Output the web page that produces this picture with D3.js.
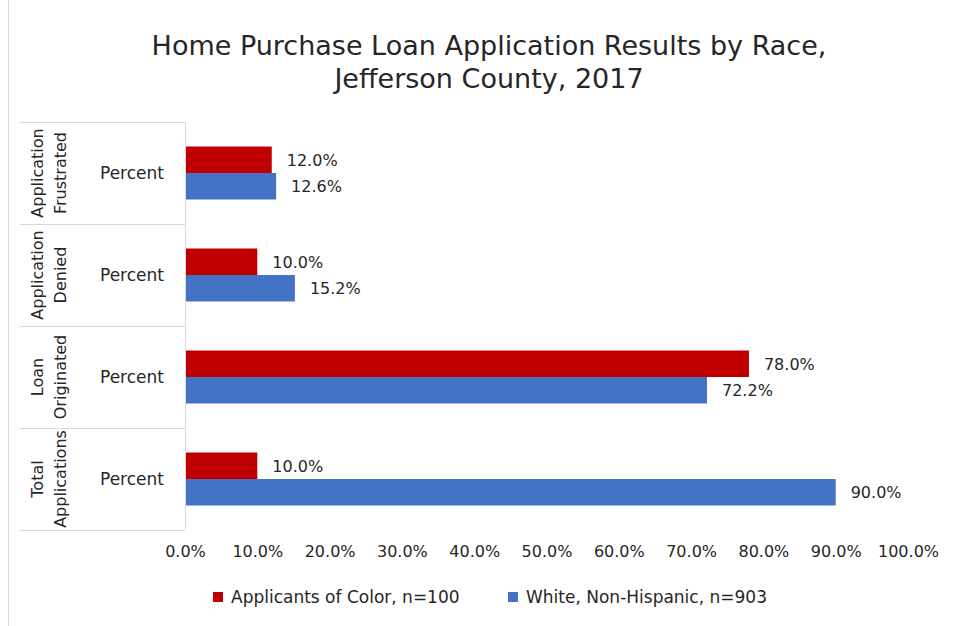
<!DOCTYPE html>
<html>
<head>
<meta charset="utf-8">
<script src="https://cdn.jsdelivr.net/npm/d3@7"></script>
<style>
  body { margin: 0; background: #fff; }
  svg { font-family: "DejaVu Sans", sans-serif; }
</style>
</head>
<body>
<svg id="chart" width="954" height="626"></svg>
<script>
// categories, top to bottom
const categories = [
  ["Application", "Frustrated"],
  ["Application", "Denied"],
  ["Loan", "Originated"],
  ["Total", "Applications"]
]
const subLabel = "Percent"
const seriesNames = ["Applicants of Color, n=100", "White, Non-Hispanic, n=903"]
const colorValues = [12.0, 10.0, 78.0, 10.0]
const whiteValues = [12.6, 15.2, 72.2, 90.0]
const xTicks = [0, 10, 20, 30, 40, 50, 60, 70, 80, 90, 100]
const colors = ["#c00000", "#4472c4"]

const svg = d3.select('#chart')
const plot = { left: 185, right: 908, top: 122, bottom: 530 }
const textColor = '#262626'

const x = d3.scaleLinear().domain([0, 100]).range([plot.left, plot.right])
const y = d3.scaleBand().domain(d3.range(categories.length)).range([plot.top, plot.bottom])
const barH = 26.5

// chart border on the left
svg.append('line')
  .attr('x1', 8.5).attr('x2', 8.5).attr('y1', 0).attr('y2', 626)
  .attr('stroke', '#d9d9d9')

// title
const title = ['Home Purchase Loan Application Results by Race,', 'Jefferson County, 2017']
svg.append('g').selectAll('text')
  .data(title)
  .join('text')
  .attr('x', 489).attr('y', (d, i) => 55 + i * 33)
  .attr('text-anchor', 'middle')
  .attr('font-size', 27).attr('fill', textColor)
  .text(d => d)

// category separator lines
const edges = d3.range(categories.length + 1).map(i => plot.top + i * y.step())
svg.append('g').selectAll('line')
  .data(edges)
  .join('line')
  .attr('x1', 20).attr('x2', plot.left)
  .attr('y1', d => Math.round(d) + 0.5).attr('y2', d => Math.round(d) + 0.5)
  .attr('stroke', '#d9d9d9')

// vertical axis line
svg.append('line')
  .attr('x1', plot.left + 0.5).attr('x2', plot.left + 0.5)
  .attr('y1', plot.top).attr('y2', plot.bottom)
  .attr('stroke', '#d9d9d9')

// category labels (rotated, two lines)
const catG = svg.append('g').selectAll('g')
  .data(categories)
  .join('g')
  .attr('transform', (d, i) => `translate(0,${y(i) + y.bandwidth() / 2}) rotate(-90)`)
catG.append('text')
  .attr('x', 0).attr('y', 43)
  .attr('text-anchor', 'middle')
  .attr('font-size', 16).attr('fill', textColor)
  .text(d => d[0])
catG.append('text')
  .attr('x', 0).attr('y', 66)
  .attr('text-anchor', 'middle')
  .attr('font-size', 16).attr('fill', textColor)
  .text(d => d[1])

// "Percent" sub labels
svg.append('g').selectAll('text')
  .data(categories)
  .join('text')
  .attr('x', 132)
  .attr('y', (d, i) => y(i) + y.bandwidth() / 2 + 6)
  .attr('text-anchor', 'middle')
  .attr('font-size', 17).attr('fill', textColor)
  .text(subLabel)

// bars
const series = [colorValues, whiteValues]
series.forEach((vals, s) => {
  const g = svg.append('g')
  g.selectAll('rect')
    .data(vals)
    .join('rect')
    .attr('x', x(0) + 1)
    .attr('y', (d, i) => y(i) + y.bandwidth() / 2 - barH + s * barH)
    .attr('width', d => x(d) - x(0) - 1)
    .attr('height', barH)
    .attr('fill', colors[s])
  g.selectAll('text')
    .data(vals)
    .join('text')
    .attr('x', d => x(d) + 15)
    .attr('y', (d, i) => y(i) + y.bandwidth() / 2 - barH / 2 + s * barH + 6)
    .attr('font-size', 16).attr('fill', textColor)
    .text(d => d.toFixed(1) + '%')
})

// x axis
const xAxis = d3.axisBottom(x)
  .tickValues(xTicks)
  .tickSize(0)
  .tickPadding(0)
  .tickFormat(d => d.toFixed(1) + '%')
const ax = svg.append('g')
  .attr('transform', `translate(0,${plot.bottom + 16})`)
  .call(xAxis)
ax.select('.domain').remove()
ax.selectAll('text')
  .attr('font-size', 16).attr('fill', textColor)
  .attr('font-family', '"DejaVu Sans", sans-serif')

// legend
const legendX = [213, 508]
const leg = svg.append('g').selectAll('g')
  .data(seriesNames)
  .join('g')
  .attr('transform', (d, i) => `translate(${legendX[i]},592)`)
leg.append('rect')
  .attr('width', 10).attr('height', 10)
  .attr('fill', (d, i) => colors[i])
leg.append('text')
  .attr('x', 18).attr('y', 11)
  .attr('font-size', 17).attr('fill', textColor)
  .text(d => d)
</script>
</body>
</html>
